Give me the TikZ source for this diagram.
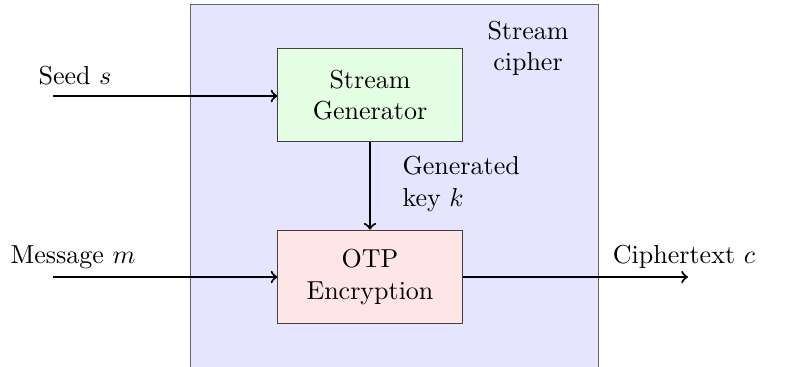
\documentclass[tikz,border=0pt]{standalone}
\usetikzlibrary{arrows}
\begin{document}
\begin{tikzpicture}[x=0.3846pt,y=-0.3846pt,
  blockbox/.style={draw=black!75, minimum width=70.8pt, minimum height=36pt, align=center, inner sep=2pt},
  flow/.style={->, thick},
  lbl/.style={align=left, inner sep=0pt}]
\useasboundingbox (0,0) rectangle (787,367);
\clip (0,0) rectangle (787,367);
\node[draw=black!60, fill=blue!10, minimum width=157pt, minimum height=160pt, anchor=north west, inner sep=0pt] (frame) at (190,4) {};
\node[blockbox, fill=green!10] (gen) at (370,95) {Stream\\Generator};
\node[blockbox, fill=red!10] (otp) at (370,277) {OTP\\Encryption};
\node[align=center, inner sep=0pt] (sc) at (528,48) {Stream\\cipher};
\coordinate (seedin) at (53,96);
\coordinate (msgin) at (53,277);
\coordinate (cout) at (688,277);
\draw[flow] (seedin) -- (seedin -| gen.west);
\draw[flow] (msgin) -- (otp.west);
\draw[flow] (otp.east) -- (cout);
\draw[flow] (gen.south) -- (otp.north);
\node[inner sep=0pt] (seedl) at (75,76) {Seed $s$};
\node[inner sep=0pt] (msgl) at (73,257) {Message $m$};
\node[inner sep=0pt] (cl) at (684,257) {Ciphertext $c$};
\node[align=left, inner sep=0pt, anchor=west] (keyl) at (402,184) {Generated\\key $k$};
\end{tikzpicture}
\end{document}
